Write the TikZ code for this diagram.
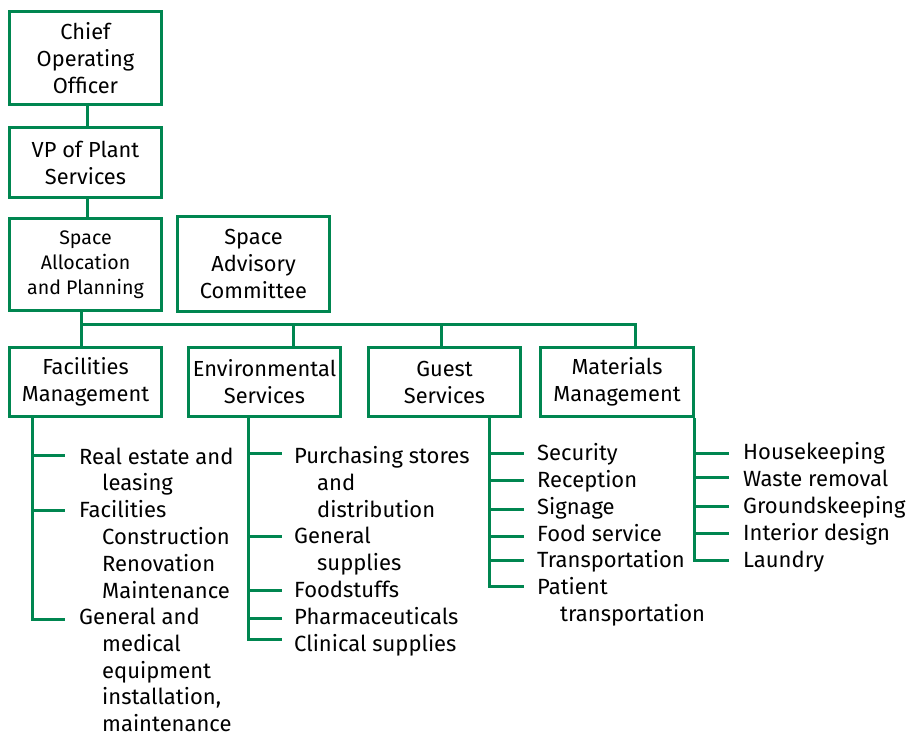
\documentclass[tikz,border=0pt]{standalone}
\usepackage{fontspec}
\setmainfont{Fira Sans}
\definecolor{grn}{RGB}{0,134,80}
\newcommand\ind{\hspace*{23pt}}
\begin{document}
\begin{tikzpicture}[x=1pt,y=-1pt,
  box/.style={draw=grn, line width=3pt, minimum width=152pt, align=center, inner sep=0pt, font=\fontsize{21.8}{27}\selectfont},
  leaf/.style={anchor=base west, inner sep=0pt, font=\fontsize{22}{26.8}\selectfont},
  conn/.style={draw=grn, line width=3pt}]
\useasboundingbox (0,0) rectangle (907,735);
% boxes
\node[box, minimum height=93pt] (coo) at (85.5,58) {Chief\\Operating\\Officer};
\node[box, minimum height=70pt] (vp) at (85.5,162.5) {VP of Plant\\Services};
\node[box, minimum height=92pt, font=\fontsize{19.6}{25}\selectfont] (sap) at (85.5,264.5) {Space\\Allocation\\and Planning};
\node[box, minimum height=95pt] (sac) at (253.5,264) {Space\\Advisory\\Committee};
\node[box, minimum height=69pt] (fm) at (85.5,382) {Facilities\\Management};
\node[box, minimum height=69pt] (es) at (264.5,382) {Environmental\\Services};
\node[box, minimum height=69pt] (gs) at (444.5,382) {Guest\\Services};
\node[box, minimum height=69pt, minimum width=153pt] (mm) at (617,382) {Materials\\Management};
% top connectors
\draw[conn] ([xshift=1.5pt]coo.south) -- ([xshift=1.5pt]vp.north);
\draw[conn] ([xshift=1.5pt]vp.south) -- ([xshift=1.5pt]sap.north);
\draw[conn] ([xshift=-4.5pt]sap.south) -- ([xshift=-4.5pt]fm.north);
\coordinate (busL) at (81,324);
\draw[conn] (busL) -| ([xshift=18pt]mm.north);
\coordinate (esd) at ([xshift=28.5pt]es.north);
\coordinate (gsd) at ([xshift=-3.5pt]gs.north);
\draw[conn] (esd) -- (esd |- busL);
\draw[conn] (gsd) -- (gsd |- busL);
% Facilities list
\node[leaf] (fa) at (79,464) {\vtop{\hbox{Real estate and}\hbox{\ind leasing}}};
\node[leaf] (fb) at (79,517.6) {\vtop{\hbox{Facilities}\hbox{\ind Construction}\hbox{\ind Renovation}\hbox{\ind Maintenance}}};
\node[leaf] (fc) at (79,624.5) {\vtop{\hbox{General and}\hbox{\ind medical}\hbox{\ind equipment}\hbox{\ind installation,}\hbox{\ind maintenance}}};
\coordinate (fv) at ([xshift=-53.5pt]fm.south);
\coordinate (ft1) at (65,455);
\coordinate (ft2) at (65,510);
\coordinate (ft3) at (65,619);
\draw[conn] (fv) |- (ft3);
\foreach \n in {1,2} \draw[conn] (ft\n -| fv) -- (ft\n);
% Environmental list
\node[leaf] (ea) at (294,463.5) {\vtop{\hbox{Purchasing stores}\hbox{\ind and}\hbox{\ind distribution}}};
\node[leaf] (eb) at (294,543.9) {\vtop{\hbox{General}\hbox{\ind supplies}}};
\node[leaf] (ec) at (294,597.5) {Foodstuffs};
\node[leaf] (ed) at (294,624.3) {Pharmaceuticals};
\node[leaf] (ee) at (294,651.1) {Clinical supplies};
\coordinate (ev) at ([xshift=-16.5pt]es.south);
\coordinate (et1) at (282,453);
\coordinate (et2) at (282,536);
\coordinate (et3) at (282,590);
\coordinate (et4) at (282,618);
\coordinate (et5) at (282,639);
\draw[conn] (ev) |- (et5);
\foreach \n in {1,...,4} \draw[conn] (et\n -| ev) -- (et\n);
% Guest list
\node[leaf] (ga) at (537,460.5) {Security};
\node[leaf] (gb) at (537,487.5) {Reception};
\node[leaf] (gc) at (537,514) {Signage};
\node[leaf] (gd) at (537,541) {Food service};
\node[leaf] (ge) at (537,567.5) {Transportation};
\node[leaf] (gf) at (537,594.5) {\vtop{\hbox{Patient}\hbox{\ind transportation}}};
\coordinate (gv) at ([xshift=45pt]gs.south);
\coordinate (gt1) at (524,453);
\coordinate (gt2) at (524,480);
\coordinate (gt3) at (524,509);
\coordinate (gt4) at (524,536);
\coordinate (gt5) at (524,560);
\coordinate (gt6) at (524,586);
\draw[conn] (gv) |- (gt6);
\foreach \n in {1,...,5} \draw[conn] (gt\n -| gv) -- (gt\n);
% Materials list
\node[leaf] (ma) at (743,459.5) {Housekeeping};
\node[leaf] (mb) at (743,486) {Waste removal};
\node[leaf] (mc) at (743,513) {Groundskeeping};
\node[leaf] (md) at (743,540) {Interior design};
\node[leaf] (me) at (743,567) {Laundry};
\coordinate (mv) at ([xshift=77pt]mm.south);
\coordinate (mt1) at (729,453);
\coordinate (mt2) at (729,477);
\coordinate (mt3) at (729,506);
\coordinate (mt4) at (729,533);
\coordinate (mt5) at (729,560);
\draw[conn] (mv) |- (mt5);
\foreach \n in {1,...,4} \draw[conn] (mt\n -| mv) -- (mt\n);
\end{tikzpicture}
\end{document}
